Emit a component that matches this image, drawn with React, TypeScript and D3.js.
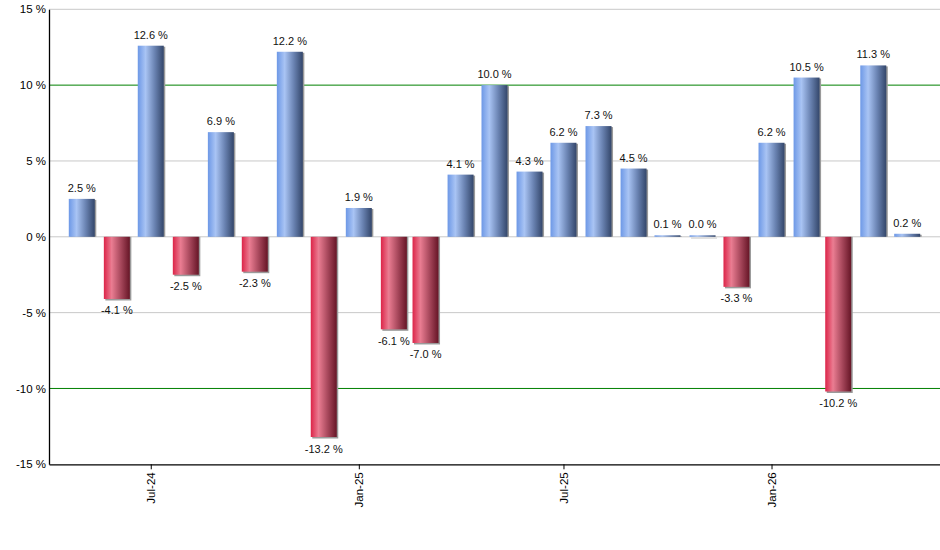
import React, { useEffect, useRef } from 'react';
import * as d3 from 'd3';

const months = [
  '2024-05', '2024-06', '2024-07', '2024-08', '2024-09', '2024-10', '2024-11', '2024-12',
  '2025-01', '2025-02', '2025-03', '2025-04', '2025-05', '2025-06', '2025-07', '2025-08',
  '2025-09', '2025-10', '2025-11', '2025-12', '2026-01', '2026-02', '2026-03', '2026-04',
  '2026-05',
];
const returns = [
  2.5, -4.1, 12.6, -2.5, 6.9, -2.3, 12.2, -13.2, 1.9, -6.1, -7.0, 4.1, 10.0,
  4.3, 6.2, 7.3, 4.5, 0.1, 0.0, -3.3, 6.2, 10.5, -10.2, 11.3, 0.2,
];
const yTicks = [15, 10, 5, 0, -5, -10, -15];
const xTickMonths = ['2024-07', '2025-01', '2025-07', '2026-01'];
const greenLines = [10, -10];

const WIDTH = 940;
const HEIGHT = 550;
const margin = { top: 9.3, right: 0, bottom: 85.7, left: 49 };
const FONT = '"Liberation Sans", Arial, sans-serif';

const parseMonth = d3.timeParse('%Y-%m');

export default function App() {
  const svgRef = useRef<SVGSVGElement>(null);

  useEffect(() => {
    if (!svgRef.current) return;
    const svg = d3.select(svgRef.current);
    svg.selectAll('*').remove();

    const dates = months.map((m) => parseMonth(m) as Date);
    const data = dates.map((date, i) => ({ date, value: returns[i] }));

    const x = d3
      .scaleTime()
      .domain([d3.timeDay.offset(dates[0], -29), d3.timeDay.offset(dates[dates.length - 1], 29)])
      .range([margin.left, WIDTH - margin.right]);

    const y = d3
      .scaleLinear()
      .domain([-15, 15])
      .range([HEIGHT - margin.bottom, margin.top]);

    const barWidth = 26;

    // gradients
    const defs = svg.append('defs');
    const addGradient = (id: string, stops: [number, string][]) => {
      const g = defs.append('linearGradient').attr('id', id).attr('x1', '0%').attr('x2', '100%').attr('y1', '0%').attr('y2', '0%');
      stops.forEach(([o, c]) => g.append('stop').attr('offset', `${o * 100}%`).attr('stop-color', c));
    };
    addGradient('blueGrad', [[0, '#6d98e6'], [0.3, '#a9c4f4'], [0.65, '#6a83b2'], [1, '#33466a']]);
    addGradient('redGrad', [[0, '#dc2448'], [0.3, '#ea7d92'], [0.65, '#a8485c'], [1, '#661526']]);

    // grid lines
    svg.append('g')
      .selectAll('line')
      .data(yTicks.filter((t) => t !== -15))
      .enter()
      .append('line')
      .attr('x1', margin.left)
      .attr('x2', WIDTH - margin.right)
      .attr('y1', (d) => y(d))
      .attr('y2', (d) => y(d))
      .attr('stroke', (d) => (greenLines.includes(d) ? '#008000' : '#c8c8c8'))
      .attr('stroke-width', 1);

    // bar shadows
    svg.append('g')
      .selectAll('rect')
      .data(data)
      .enter()
      .append('rect')
      .attr('x', (d) => x(d.date) - barWidth / 2 + 1.5)
      .attr('y', (d) => Math.min(y(d.value), y(0)) + (d.value >= 0 ? 1 : 0))
      .attr('width', barWidth)
      .attr('height', (d) => Math.max(1.5, Math.abs(y(d.value) - y(0))) + (d.value >= 0 ? -1 : 1.5))
      .attr('fill', '#9a9a9a');

    // bars
    svg.append('g')
      .selectAll('rect')
      .data(data)
      .enter()
      .append('rect')
      .attr('x', (d) => x(d.date) - barWidth / 2)
      .attr('y', (d) => (d.value >= 0 ? Math.min(y(d.value), y(0) - 1.5) : y(0)))
      .attr('width', barWidth)
      .attr('height', (d) => Math.max(1.5, Math.abs(y(d.value) - y(0))))
      .attr('fill', (d) => (d.value >= 0 ? 'url(#blueGrad)' : 'url(#redGrad)'));

    // value labels
    svg.append('g')
      .selectAll('text')
      .data(data)
      .enter()
      .append('text')
      .attr('x', (d) => x(d.date))
      .attr('y', (d) => (d.value >= 0 ? Math.min(y(d.value), y(0) - 1.5) - 7 : y(d.value) + 15.5))
      .attr('text-anchor', 'middle')
      .attr('font-size', '11px')
      .attr('font-family', FONT)
      .attr('fill', '#111')
      .text((d) => `${d.value.toFixed(1)} %`);

    // y axis
    const yAxis = svg.append('g')
      .attr('transform', `translate(${margin.left},0)`)
      .call(
        d3.axisLeft(y)
          .tickValues(yTicks)
          .tickSize(0)
          .tickPadding(3)
          .tickFormat((d) => `${d} %`)
      );
    yAxis.select('.domain').attr('stroke', '#000').attr('stroke-width', 1.3);
    yAxis.selectAll('text').attr('font-size', '11.5px').attr('font-family', FONT).attr('fill', '#000');

    // x axis
    const xAxis = svg.append('g')
      .attr('transform', `translate(0,${y(-15)})`)
      .call(
        d3.axisBottom(x)
          .tickValues(xTickMonths.map((m) => parseMonth(m) as Date))
          .tickSize(5)
          .tickSizeOuter(0)
          .tickFormat((d) => d3.timeFormat('%b-%y')(d as Date))
      );
    xAxis.select('.domain').attr('stroke', '#000').attr('stroke-width', 1.3);
    xAxis.selectAll('.tick line').attr('stroke', '#000');
    xAxis.selectAll('text')
      .attr('font-size', '11.5px')
      .attr('font-family', FONT)
      .attr('fill', '#000')
      .attr('transform', 'rotate(-90)')
      .attr('text-anchor', 'end')
      .attr('dy', '0.35em')
      .attr('x', -8)
      .attr('y', 0);
  }, []);

  return (
    <svg
      ref={svgRef}
      width={WIDTH}
      height={HEIGHT}
      style={{ position: 'absolute', left: 0, top: 0, background: '#fff' }}
    />
  );
}
